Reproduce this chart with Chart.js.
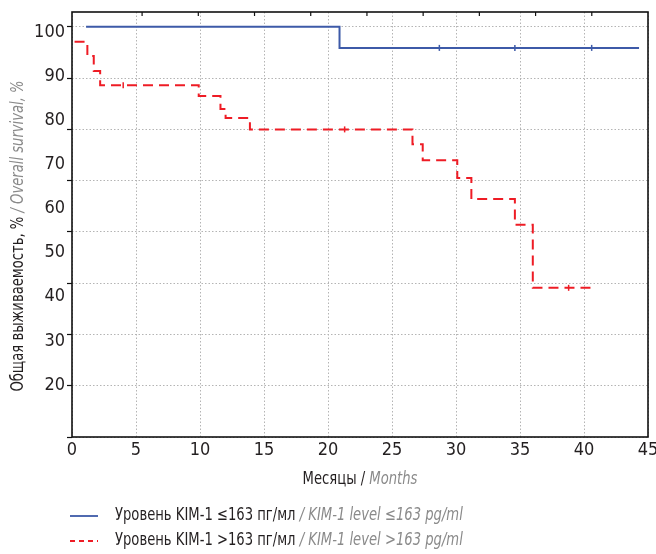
<!DOCTYPE html>
<html>
<head>
<meta charset="utf-8">
<script src="https://cdn.jsdelivr.net/npm/chart.js@4.4.0/dist/chart.umd.min.js"></script>
<style>
  html, body { margin: 0; padding: 0; background: #fff; }
</style>
</head>
<body>
<canvas id="myChart" width="656" height="554"></canvas>
<script>
'use strict';
// months on the x axis
let monthTicks = [0, 5, 10, 15, 20, 25, 30, 35, 40, 45];
// grid lines of the survival scale
let survivalGrid = [20, 30, 40, 50, 60, 70, 80, 90, 100];
// printed labels of the y axis (they sit a bit off the grid in the picture)
let yLabels = [20, 30, 40, 50, 60, 70, 80, 90, 100];

// KIM-1 <= 163 pg/ml
let lowX = [1.1, 20.9, 44.3];
let lowY = [100, 95.9, 95.9];
let lowCensorX = [28.7, 34.6, 40.6];
let lowCensorY = [95.9, 95.9, 95.9];

// KIM-1 > 163 pg/ml
let highX = [0.2, 1.2, 1.7, 2.2, 9.9, 11.6, 12.0, 13.9, 26.6, 27.4, 30.1, 31.2, 34.6, 36.0, 40.8];
let highY = [97.1, 94.3, 91.4, 88.6, 86.5, 84.0, 82.2, 80.0, 77.1, 74.0, 70.5, 66.4, 61.4, 49.1, 49.1];
let highCensorX = [4.0, 21.3, 38.8];
let highCensorY = [88.6, 80.0, 49.1];

let blue = '#3d5aa8';
let red = '#ee1c25';
let fontFam = "'Liberation Sans Narrow', 'DejaVu Sans Condensed', 'Roboto', sans-serif";
let squeeze = 0.86;

function pts(xs, ys) {
  let out = [];
  for (let i = 0; i < xs.length; i++) {
    out.push({ x: xs[i], y: ys[i] });
  }
  return out;
}

// black part + grey italic part, condensed a bit
function partsWidth(ctx, parts) {
  let w = 0;
  parts.forEach(function (p) {
    ctx.font = (p.italic ? 'italic ' : '') + '17px ' + fontFam;
    w += ctx.measureText(p.text).width;
  });
  return w * squeeze;
}
function drawParts(ctx, parts, x, y) {
  ctx.save();
  ctx.translate(x, y);
  ctx.scale(squeeze, 1);
  let cx = 0;
  parts.forEach(function (p) {
    ctx.font = (p.italic ? 'italic ' : '') + '17px ' + fontFam;
    ctx.fillStyle = p.italic ? '#8a8a8a' : '#231f20';
    ctx.fillText(p.text, cx, 0);
    cx += ctx.measureText(p.text).width;
  });
  ctx.restore();
}

let decor = {
  id: 'decor',
  afterDraw(chart) {
    let ctx = chart.ctx;
    let a = chart.chartArea;
    ctx.save();
    // frame
    ctx.strokeStyle = '#111';
    ctx.lineWidth = 1.6;
    ctx.setLineDash([]);
    ctx.strokeRect(a.left, a.top, a.right - a.left, a.bottom - a.top);
    // small inner ticks on top
    let x2 = chart.scales.x2;
    ctx.lineWidth = 1.2;
    x2.ticks.forEach(function (t) {
      let px = x2.getPixelForValue(t.value);
      if (px > a.left + 2 && px < a.right - 2) {
        ctx.beginPath();
        ctx.moveTo(px, a.top);
        ctx.lineTo(px, a.top + 4);
        ctx.stroke();
      }
    });

    ctx.textBaseline = 'middle';
    // x title
    let xParts = [{ text: 'Месяцы / ' }, { text: 'Months', italic: true }];
    let xw = partsWidth(ctx, xParts);
    drawParts(ctx, xParts, (a.left + a.right) / 2 - xw / 2, 480);

    // y title
    let yParts = [{ text: 'Общая выживаемость, % ' }, { text: '/ Overall survival, %', italic: true }];
    let yw = partsWidth(ctx, yParts);
    ctx.save();
    ctx.translate(19, 236);
    ctx.rotate(-Math.PI / 2);
    drawParts(ctx, yParts, -yw / 2, 0);
    ctx.restore();

    // legend
    let rows = [
      { color: blue, dash: [], parts: [{ text: 'Уровень KIM-1 ≤163 пг/мл ' }, { text: '/ KIM-1 level ≤163 pg/ml', italic: true }], y: 516 },
      { color: red, dash: [5, 4], parts: [{ text: 'Уровень KIM-1 >163 пг/мл ' }, { text: '/ KIM-1 level >163 pg/ml', italic: true }], y: 541 }
    ];
    rows.forEach(function (r) {
      ctx.strokeStyle = r.color;
      ctx.lineWidth = 1.8;
      ctx.setLineDash(r.dash);
      ctx.beginPath();
      ctx.moveTo(70, r.y);
      ctx.lineTo(98, r.y);
      ctx.stroke();
      ctx.setLineDash([]);
      drawParts(ctx, r.parts, 115, r.y);
    });
    ctx.restore();
  }
};

Chart.defaults.font.family = fontFam;
Chart.defaults.color = '#231f20';

let ctx = document.getElementById('myChart').getContext('2d');
let myChart = new Chart(ctx, {
  type: 'line',
  data: {
    datasets: [{
      label: 'KIM-1 <= 163',
      data: pts(lowX, lowY),
      stepped: true,
      borderColor: blue,
      borderWidth: 2,
      pointRadius: 0,
      fill: false
    }, {
      label: 'KIM-1 > 163',
      data: pts(highX, highY),
      stepped: true,
      borderColor: red,
      borderWidth: 2,
      borderDash: [10, 6],
      pointRadius: 0,
      fill: false
    }, {
      label: 'censored low',
      data: pts(lowCensorX, lowCensorY),
      showLine: false,
      pointStyle: 'line',
      rotation: 90,
      pointRadius: 3,
      borderColor: blue,
      borderWidth: 1.5
    }, {
      label: 'censored high',
      data: pts(highCensorX, highCensorY),
      showLine: false,
      pointStyle: 'line',
      rotation: 90,
      pointRadius: 3,
      borderColor: red,
      borderWidth: 1.5
    }]
  },
  options: {
    responsive: false,
    animation: false,
    layout: { padding: { top: 12, right: 8, left: 0, bottom: 0 } },
    plugins: {
      legend: { display: false },
      tooltip: { enabled: false }
    },
    scales: {
      x: {
        type: 'linear',
        min: 0,
        max: 45,
        afterBuildTicks: function (s) { s.ticks = monthTicks.map(function (v) { return { value: v }; }); },
        afterFit: function (s) { s.height = 117; s.paddingLeft = 0; s.paddingRight = 0; },
        grid: {
          color: '#b4b4b4',
          lineWidth: 1,
          drawTicks: false
        },
        border: { display: false, dash: [1.5, 2] },
        ticks: { font: { size: 18 }, padding: 3, maxRotation: 0 }
      },
      x2: {
        type: 'linear',
        position: 'top',
        display: false,
        min: -0.247,
        max: 10,
        ticks: { stepSize: 1 }
      },
      y: {
        type: 'linear',
        position: 'left',
        weight: 0,
        min: 20,
        max: 102.9,
        afterBuildTicks: function (s) { s.ticks = survivalGrid.map(function (v) { return { value: v }; }); },
        afterFit: function (s) { s.width = 0; s.paddingTop = 0; s.paddingBottom = 0; },
        grid: {
          color: '#b4b4b4',
          lineWidth: 1,
          drawTicks: true,
          tickLength: 5,
          tickColor: '#111',
          tickWidth: 1.2,
          tickBorderDash: []
        },
        border: { display: false, dash: [1.5, 2] },
        ticks: { display: false }
      },
      yl: {
        type: 'linear',
        position: 'left',
        weight: 1,
        min: 8.22,
        max: 104.53,
        afterBuildTicks: function (s) { s.ticks = yLabels.map(function (v) { return { value: v }; }); },
        afterFit: function (s) { s.width = 72; s.paddingTop = 0; s.paddingBottom = 0; },
        grid: { display: false, drawTicks: false },
        border: { display: false },
        ticks: { font: { size: 18 }, padding: 7 }
      }
    }
  },
  plugins: [decor]
});
</script>
</body>
</html>
